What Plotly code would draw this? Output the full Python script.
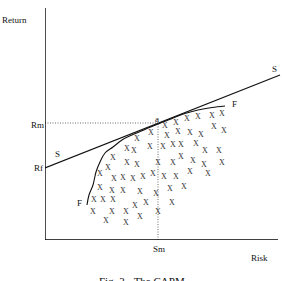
import plotly.graph_objects as go

# Data (risk, return) in chart units
sml_risk = [0, 235]
sml_return = [72, 165]

frontier_risk = [42, 44, 48, 51, 55, 60, 68, 77, 87, 100, 113, 127, 140, 153, 167, 180]
frontier_return = [35, 45, 55, 68, 78, 87, 93, 100, 105, 110.5, 116, 121.5, 126.5, 130, 132.5, 134]

asset_risk = [
    120, 131, 142, 153, 167, 177,
    106, 92, 122, 133, 145, 156, 169, 179,
    82, 89, 105, 118, 128, 136, 151, 160, 174,
    68, 82, 92, 113, 128, 136, 148, 159, 177,
    55, 63, 69, 78, 88, 98, 108, 119, 131, 145, 163,
    55, 67, 78, 95, 111, 125, 139,
    49, 58, 68, 90, 101, 127,
    48, 67, 81, 95, 113, 61, 81,
]
asset_return = [
    114, 117, 121, 123, 124, 126,
    107, 101, 104, 108, 107, 105, 113, 109,
    91, 89, 93, 93, 95, 95, 96, 89, 89,
    82, 77, 75, 77, 77, 83, 79, 75, 77,
    66, 72, 61, 62, 61, 63, 66, 63, 63, 68, 66,
    52, 49, 49, 48, 46, 51, 53,
    40, 40, 40, 34, 37, 37,
    28, 28, 28, 23, 28, 19, 17,
]

rm_value = 117
sm_value = 113

labels_text = ["Return", "Rm", "Rf", "S", "S", "F", "F", "a", "Sm", "Risk"]
labels_x = [-30, -8, -7, 12, 229, 189, 34, 112, 114, 214]
labels_y = [220, 115, 72, 86, 171, 136, 37, 121, -9, -18]

caption = "Fig. 3 - The CAPM"
caption_x, caption_y = 97, -33

X_MAX, Y_MAX = 237, 232
FONT = "Liberation Serif, Times New Roman, serif"

fig = go.Figure()

dot = dict(color="#444", width=0.8, dash="1px,1.5px")
fig.add_trace(go.Scatter(x=[0, sm_value], y=[rm_value, rm_value], mode="lines",
                         line=dot, hoverinfo="skip"))
fig.add_trace(go.Scatter(x=[sm_value, sm_value], y=[0, rm_value], mode="lines",
                         line=dot, hoverinfo="skip"))

fig.add_trace(go.Scatter(x=frontier_risk, y=frontier_return, mode="lines",
                         line=dict(color="#111", width=1.1, shape="spline"), hoverinfo="skip"))
fig.add_trace(go.Scatter(x=sml_risk, y=sml_return, mode="lines",
                         line=dict(color="#111", width=1.2), hoverinfo="skip"))

fig.add_trace(go.Scatter(x=asset_risk, y=asset_return, mode="text",
                         text=["X"] * len(asset_risk), textposition="middle center",
                         textfont=dict(family=FONT, size=8, color="#333"), hoverinfo="skip"))

# axes
fig.add_shape(type="line", x0=0, x1=0, y0=-3, y1=Y_MAX, xref="x", yref="y",
              line=dict(color="black", width=1.4))
fig.add_shape(type="line", x0=0, x1=233, y0=0, y1=0, xref="x", yref="y",
              line=dict(color="black", width=1.4))

for t, x, y in zip(labels_text, labels_x, labels_y):
    fig.add_annotation(x=x / X_MAX, y=y / Y_MAX, text=t, showarrow=False,
                       xref="paper", yref="paper",
                       xanchor="center", yanchor="middle",
                       font=dict(family=FONT, size=9, color="#111"))

fig.add_annotation(x=caption_x / X_MAX, y=caption_y / Y_MAX, text=caption, showarrow=False,
                   xref="paper", yref="paper", xanchor="center", yanchor="top",
                   font=dict(family=FONT, size=11, color="#111"))

fig.update_layout(
    width=282, height=281,
    margin=dict(l=45, r=0, t=8, b=41),
    paper_bgcolor="white", plot_bgcolor="white",
    showlegend=False,
    xaxis=dict(range=[0, X_MAX], visible=False, fixedrange=True),
    yaxis=dict(range=[0, Y_MAX], visible=False, fixedrange=True),
)

fig.write_html("out.html", config={"displayModeBar": False})
